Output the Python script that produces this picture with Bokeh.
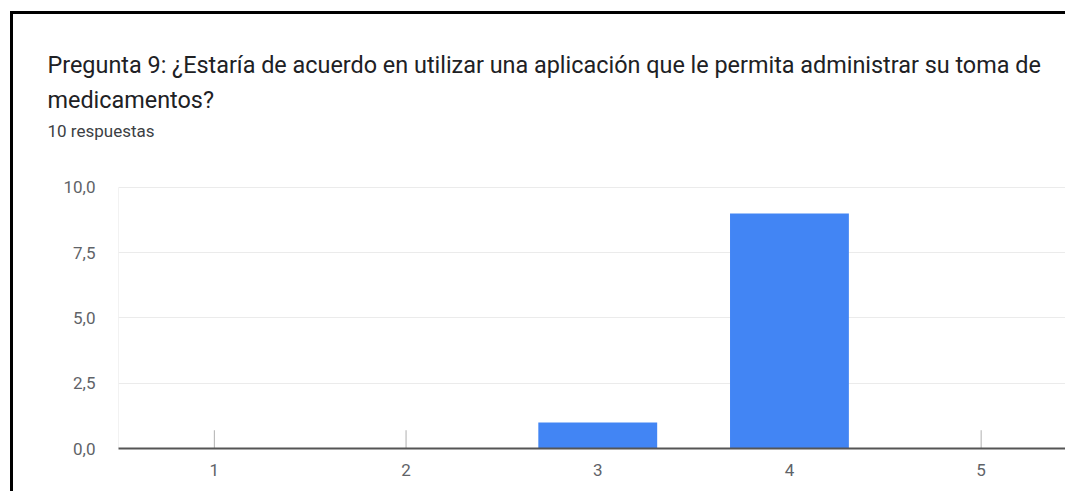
from bokeh.plotting import figure
from bokeh.models import FixedTicker, Range1d, Title
from bokeh.embed import file_html
from bokeh.resources import INLINE

# Survey answers: scale 1-5 and number of responses for each
categories = [1, 2, 3, 4, 5]
counts = [0, 0, 1, 9, 0]
y_ticks = [0.0, 2.5, 5.0, 7.5, 10.0]
y_tick_labels = ["0,0", "2,5", "5,0", "7,5", "10,0"]
y_max = 10.0

title_line1 = "Pregunta 9: ¿Estaría de acuerdo en utilizar una aplicación que le permita administrar su toma de"
title_line2 = "medicamentos?"
subtitle = "10 respuestas"

BAR_COLOR = "#4285F4"
TEXT_COLOR = "#202124"
LABEL_COLOR = "#5f6368"
SUB_COLOR = "#3c4043"

# black frame lines along the top and left of the card, painted as CSS backgrounds
card_bg = ("linear-gradient(#000, #000) 10px 11px / 1055px 3px no-repeat, "
           "linear-gradient(#000, #000) 10px 11px / 3px 480px no-repeat, #ffffff")

p = figure(
    width=1065, height=491,
    x_range=Range1d(0.5, 5.44), y_range=Range1d(0, 11.53),
    output_backend="svg", toolbar_location=None, title=None,
    min_border_left=118, min_border_right=0, min_border_bottom=43, min_border_top=147,
    styles={"background": card_bg},
)
p.outline_line_color = None
p.border_fill_color = None
p.background_fill_color = None

# header: response count closest to the plot, question text above it
p.add_layout(Title(text=subtitle, text_font="Roboto", text_font_size="17px",
                   text_font_style="normal", text_color=SUB_COLOR,
                   align="left", offset=-71, standoff=14), "above")
p.add_layout(Title(text=title_line2, text_font="Roboto", text_font_size="23.4px",
                   text_font_style="normal", text_color=TEXT_COLOR,
                   align="left", offset=-71, standoff=-4), "above")
p.add_layout(Title(text=title_line1, text_font="Roboto", text_font_size="23.4px",
                   text_font_style="normal", text_color=TEXT_COLOR,
                   align="left", offset=-71, standoff=14), "above")

# light vertical value axis line, running from 0 up to the top tick only
p.segment(x0=[0.5], y0=[0], x1=[0.5], y1=[y_max], line_color="#e6e6e6", line_width=1)

# small category tick marks rising from the baseline, hidden behind bars
p.segment(x0=categories, y0=[0] * len(categories), x1=categories,
          y1=[0.7] * len(categories), line_color="#b0b0b0", line_width=1)

p.vbar(x=categories, top=counts, width=0.62, fill_color=BAR_COLOR,
       line_color=None)

# axes
p.xaxis.ticker = FixedTicker(ticks=categories)
p.xaxis.major_tick_line_color = None
p.xaxis.minor_tick_line_color = None
p.xaxis.axis_line_color = "#555555"
p.xaxis.axis_line_width = 2
p.xaxis.major_label_text_font = "Roboto"
p.xaxis.major_label_text_font_size = "17px"
p.xaxis.major_label_text_color = LABEL_COLOR
p.xaxis.major_label_standoff = 9

p.yaxis.ticker = FixedTicker(ticks=y_ticks)
p.yaxis.major_label_overrides = {t: s for t, s in zip(y_ticks, y_tick_labels)}
p.yaxis.major_tick_line_color = None
p.yaxis.minor_tick_line_color = None
p.yaxis.axis_line_color = None
p.yaxis.major_label_text_font = "Roboto"
p.yaxis.major_label_text_font_size = "17px"
p.yaxis.major_label_text_color = LABEL_COLOR
p.yaxis.major_label_standoff = 17

p.xgrid.grid_line_color = None
p.ygrid.grid_line_color = "#ebebeb"
p.ygrid.ticker = FixedTicker(ticks=y_ticks)

open("out.html", "w").write(file_html(p, INLINE))
